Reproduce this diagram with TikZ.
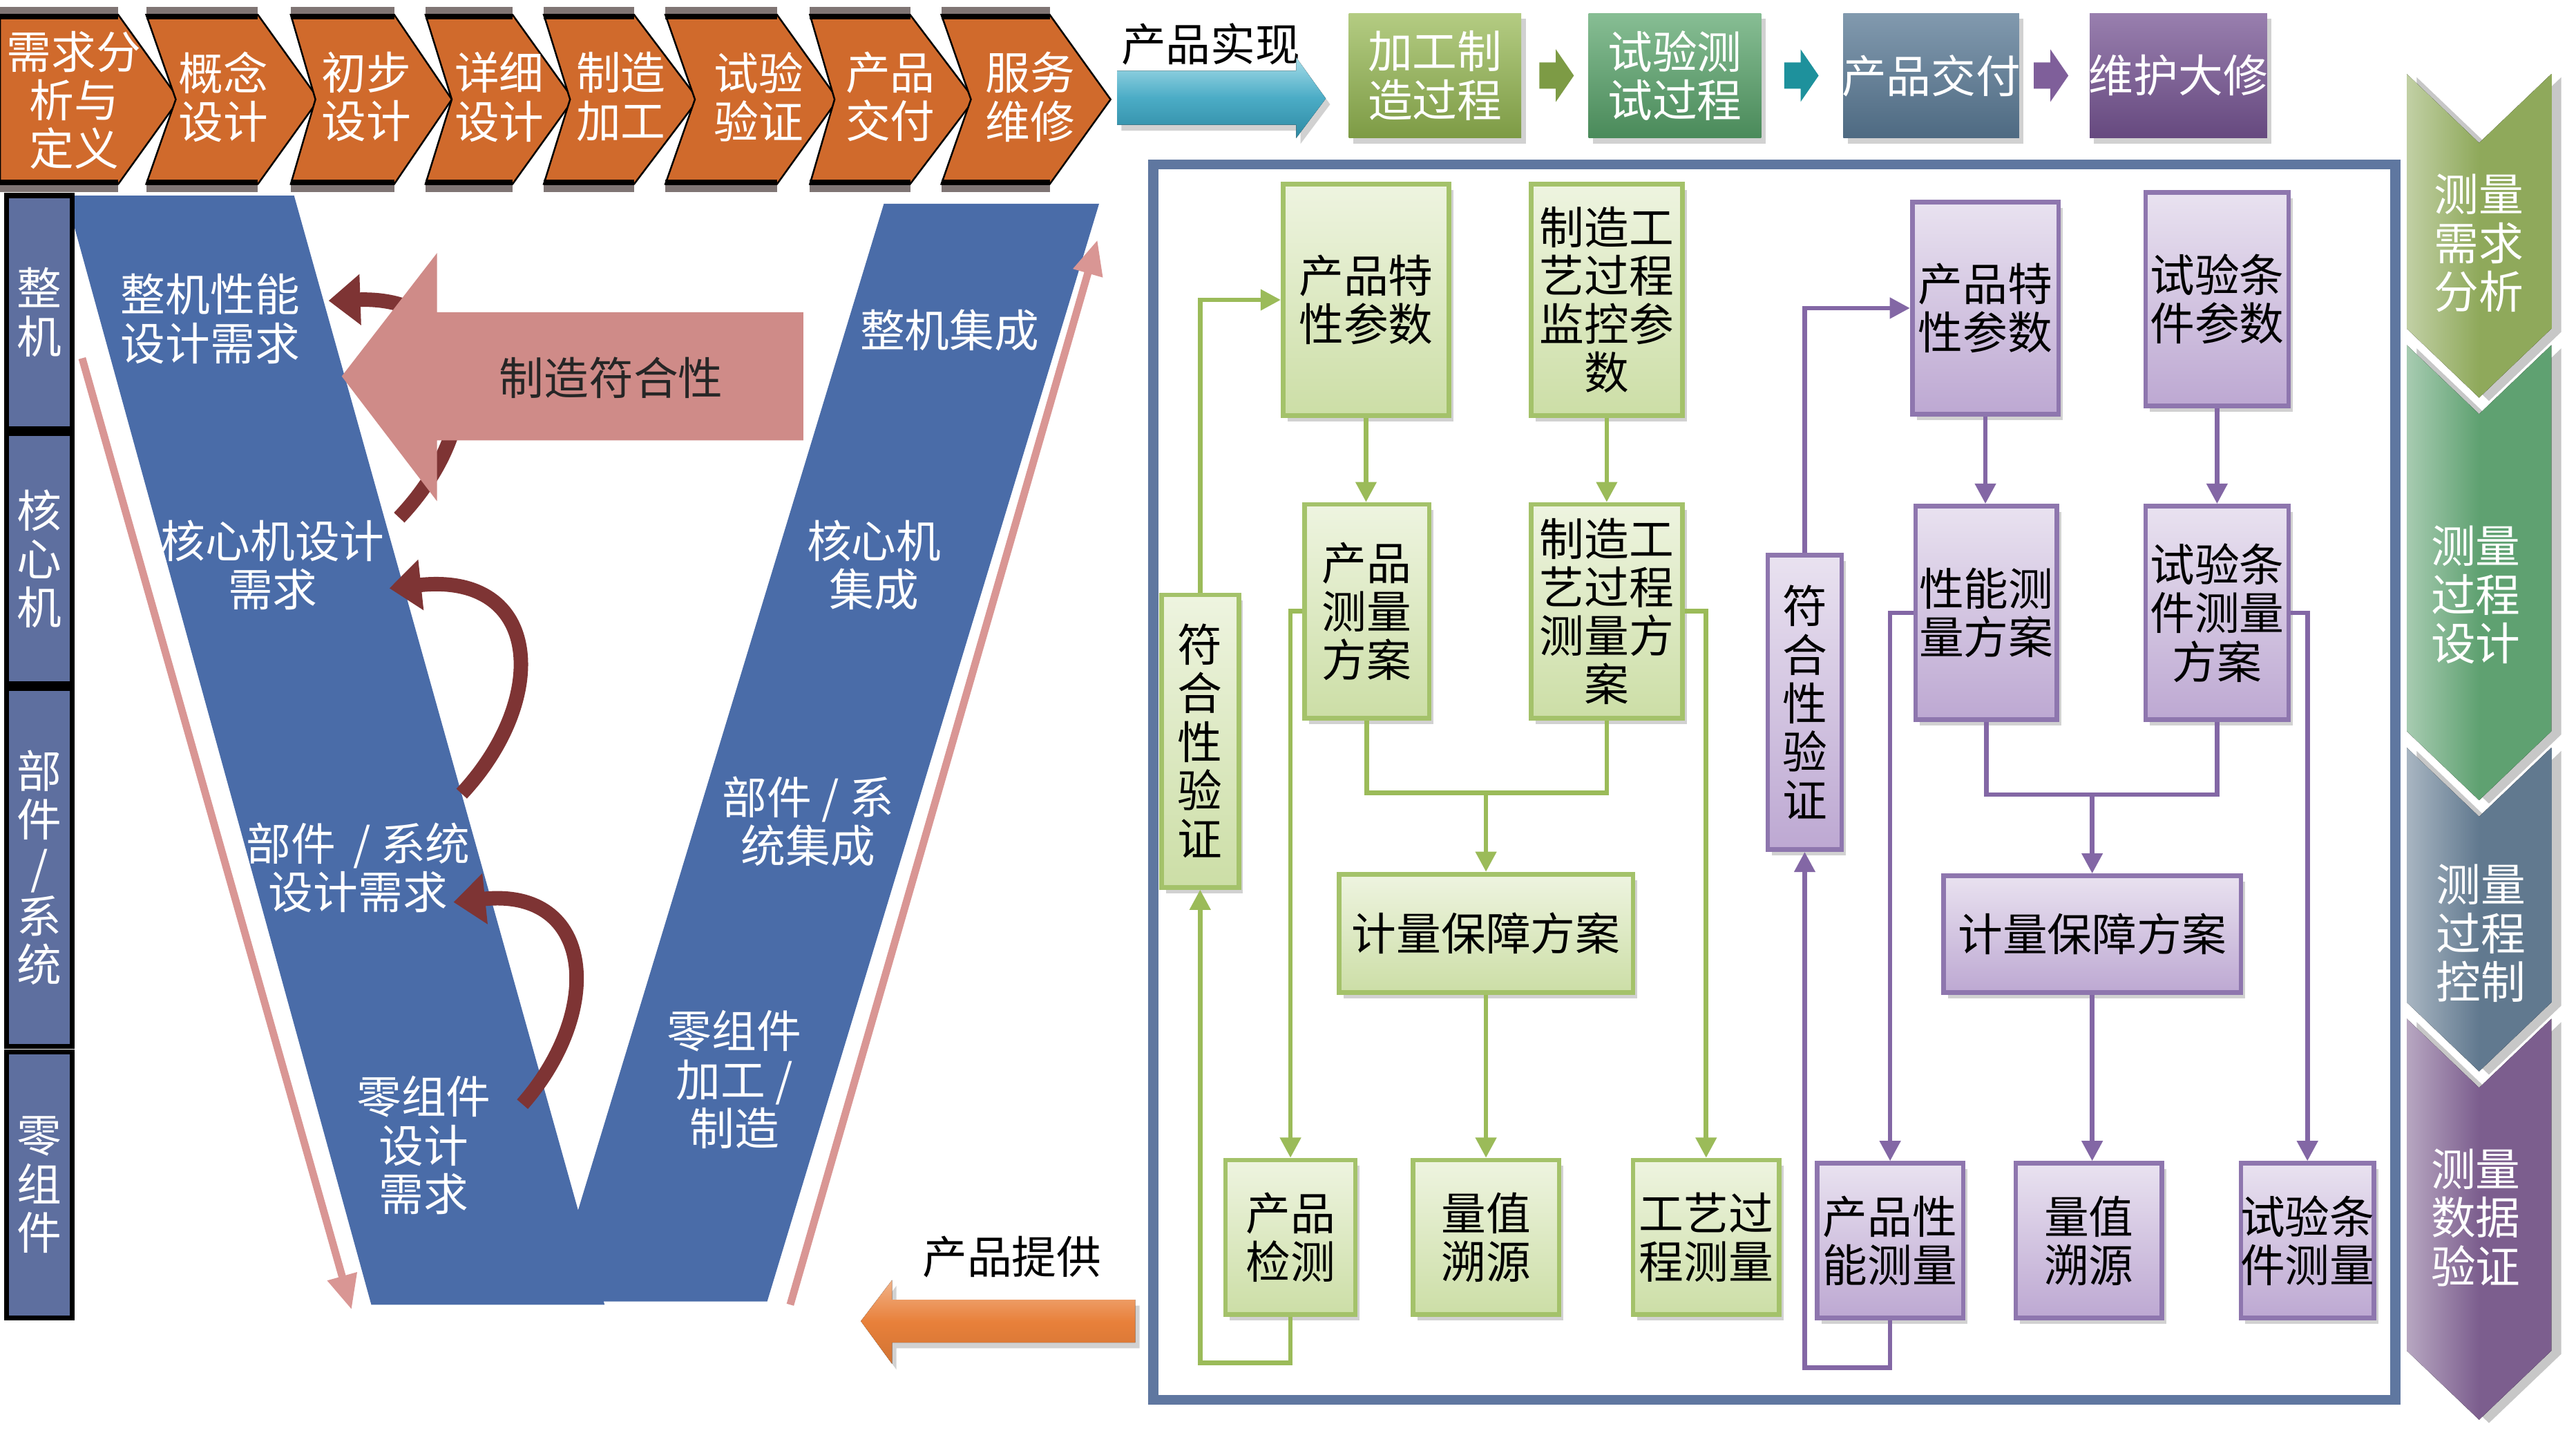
\documentclass[tikz,border=0pt]{standalone}
\usepackage{fontspec}
\setmainfont{Noto Sans CJK SC}
\usetikzlibrary{arrows.meta,shadows,fit,calc}
\definecolor{orC}{HTML}{D06A2C}
\definecolor{bandG}{HTML}{7F7574}
\definecolor{tealA}{HTML}{4BACC6}
\definecolor{tealB}{HTML}{2F8AA3}
\definecolor{tealL}{HTML}{A6DCE8}
\definecolor{olv}{HTML}{9BBB59}
\definecolor{olvD}{HTML}{7D9B45}
\definecolor{grn}{HTML}{5FA870}
\definecolor{grnD}{HTML}{4A8A5A}
\definecolor{slt}{HTML}{62809A}
\definecolor{sltD}{HTML}{4E6A82}
\definecolor{prp}{HTML}{7F5F9A}
\definecolor{prpD}{HTML}{66497F}
\definecolor{frameC}{HTML}{5F77A0}
\definecolor{cellC}{HTML}{5E6F9F}
\definecolor{vblue}{HTML}{4A6CA8}
\definecolor{pinkL}{HTML}{D99694}
\definecolor{pinkA}{HTML}{CF8B88}
\definecolor{dred}{HTML}{7E3434}
\definecolor{orA}{HTML}{E8803A}
\definecolor{gtop}{HTML}{EEF4E0}
\definecolor{gbot}{HTML}{CCDEA6}
\definecolor{gbrd}{HTML}{A4C26A}
\definecolor{glnC}{HTML}{9BBB59}
\definecolor{ptop}{HTML}{E9E2F0}
\definecolor{pbot}{HTML}{BDA8D2}
\definecolor{pbrd}{HTML}{8E76AE}
\definecolor{plnC}{HTML}{8367A5}
\definecolor{rcA}{HTML}{8FA95B}
\definecolor{rcB}{HTML}{5FA171}
\definecolor{rcC}{HTML}{61798F}
\definecolor{rcD}{HTML}{7C5E8E}
\newcommand\fs{\fontsize{15.5}{16.8}\selectfont}
% box: style, fit points, name, text style, text
\newcommand\mkbox[5]{\node[#1,fit={#2}] (#3) {}; \node[#4] (#3t) at (#3.center) {#5};}
\begin{document}
\begin{tikzpicture}[x=0.02cm,y=-0.02cm,
  wt/.style={text=white,align=center,inner sep=0pt,font=\fs},
  bt/.style={text=black,align=center,inner sep=0pt,font=\fs},
  cell/.style={fill=cellC,draw=black,line width=1.7pt,inner sep=0pt},
  shd/.style={drop shadow={shadow xshift=1.5pt,shadow yshift=-2pt,fill=black!45,opacity=.4}},
  gbox/.style={draw=gbrd,line width=1.6pt,top color=gtop,bottom color=gbot,inner sep=0pt,shd},
  pbox/.style={draw=pbrd,line width=1.6pt,top color=ptop,bottom color=pbot,inner sep=0pt,shd},
  topbox/.style={inner sep=0pt,shd},
  gline/.style={draw=glnC,line width=1.6pt},
  garr/.style={gline,-{Triangle[length=7pt,width=7pt]}},
  pline/.style={draw=plnC,line width=1.6pt},
  parr/.style={pline,-{Triangle[length=7pt,width=7pt]}},
  pinkarr/.style={draw=pinkL,line width=2.6pt,-{Triangle[length=12pt,width=10pt]}},
  dredarr/.style={draw=dred,line width=5pt,-{Triangle[length=11pt,width=17pt]}}
]
\useasboundingbox (0,0) rectangle (1568,872);
\fill[white] (0,0) rectangle (1568,872);

% ---------- V shape ----------
\fill[vblue] (40,119) -- (179,119) -- (368,794) -- (226,794) -- cycle;
\fill[vblue] (538,124) -- (669,124) -- (467,792) -- (335,792) -- cycle;

\coordinate (pl1) at (50,218); \coordinate (pl2) at (214,797);
\draw[pinkarr] (pl1) -- (pl2);
\coordinate (pr1) at (481,794); \coordinate (pr2) at (668,146);
\draw[pinkarr] (pr1) -- (pr2);

\coordinate (d1a) at (243,315); \coordinate (d1b) at (200,183);
\draw[dredarr] (d1a) .. controls (300,255) and (290,180) .. (d1b);

\fill[pinkA] (208,229) -- (266,154) -- (266,190) -- (489,190) -- (489,268) -- (266,268) -- (266,305) -- cycle;
\node[bt,text=black!85] (zz) at (372,230) {制造符合性};

\coordinate (d2a) at (281,483); \coordinate (d2b) at (237,358);
\draw[dredarr] (d2a) .. controls (335,425) and (330,348) .. (d2b);
\coordinate (d3a) at (318,672); \coordinate (d3b) at (276,549);
\draw[dredarr] (d3a) .. controls (368,615) and (362,540) .. (d3b);

\node[wt] (V1) at (128,194) {整机性能\\设计需求};
\node[wt] (V2) at (166,344) {核心机设计\\需求};
\node[wt] (V3) at (218,528) {部件 \,/ 系统\\设计需求};
\node[wt] (V4) at (258,697) {零组件\\设计\\需求};
\node[wt] (V5) at (578,201) {整机集成};
\node[wt] (V6) at (532,344) {核心机\\集成};
\node[wt] (V7) at (492,500) {部件 / 系\\统集成};
\node[wt] (V8) at (447,657) {零组件\\加工 /\\制造};

% ---------- left column ----------
\mkbox{cell}{(4,119)(44,261)}{L1}{wt}{整\\机}
\mkbox{cell}{(4,264)(44,416)}{L2}{wt}{核\\心\\机}
\mkbox{cell}{(4,419)(44,637)}{L3}{wt}{部\\件\\/\\系\\统}
\mkbox{cell}{(4,640)(44,802)}{L4}{wt}{零\\组\\件}

% ---------- top chevrons ----------
\foreach \L/\N/\R/\T in {0/0/72/109, 89/107/157/194, 177/192/240/275, 259/275/312/349, 331/347/386/425, 405/423/473/510, 493/508/554/593, 573/591/639/676}{
  \fill[bandG] (\L,4) rectangle (\R,9);
  \fill[bandG] (\L,112) rectangle (\R,117);
  \filldraw[fill=orC,draw=black,line width=0.6pt] (\L,9) -- (\R,9) -- (\T,60.5) -- (\R,112) -- (\L,112) -- (\N,60.5) -- cycle;
  \draw[black,line width=2pt] (\L,10) -- (\R,10) (\L,111) -- (\R,111);
}
\node[wt] (T1) at (45,61) {需求分\\析与\\定义};
\node[wt] (T2) at (136,59) {概念\\设计};
\node[wt] (T3) at (223,59) {初步\\设计};
\node[wt] (T4) at (304,59) {详细\\设计};
\node[wt] (T5) at (378,59) {制造\\加工};
\node[wt] (T6) at (462,59) {试验\\验证};
\node[wt] (T7) at (542,59) {产品\\交付};
\node[wt] (T8) at (627,59) {服务\\维修};

% ---------- product realisation ----------
\node[bt] (PR) at (737,27) {产品实现};
\fill[top color=tealL,bottom color=tealB,middle color=tealA,shd] (680,43) -- (789,43) -- (789,35) -- (807,60) -- (789,84) -- (789,76) -- (680,76) -- cycle;
\mkbox{topbox,top color=olv!75!white,bottom color=olvD}{(821,8)(926,84)}{B1}{wt}{加工制\\造过程}
\mkbox{topbox,top color=grn!75!white,bottom color=grnD}{(967,8)(1072,84)}{B2}{wt}{试验测\\试过程}
\mkbox{topbox,top color=slt!80!white,bottom color=sltD}{(1122,8)(1229,84)}{B3}{wt}{产品交付}
\mkbox{topbox,top color=prp!80!white,bottom color=prpD}{(1272,8)(1380,84)}{B4}{wt}{维护大修}
\fill[olvD] (937,38) -- (947,38) -- (947,30) -- (958,46) -- (947,62) -- (947,54) -- (937,54) -- cycle;
\fill[teal!60!tealA] (1086,38) -- (1096,38) -- (1096,30) -- (1107,46) -- (1096,62) -- (1096,54) -- (1086,54) -- cycle;
\fill[prp] (1238,38) -- (1248,38) -- (1248,30) -- (1259,46) -- (1248,62) -- (1248,54) -- (1238,54) -- cycle;

% ---------- product supply ----------
\node[bt] (PS) at (616,765) {产品提供};
\fill[top color=orA!60!white,bottom color=orA!90!black,middle color=orA,shd] (524,804) -- (543,779) -- (543,791) -- (691,791) -- (691,817) -- (543,817) -- (543,830) -- cycle;

% ---------- frame ----------
\draw[frameC,line width=3.4pt] (702,100) rectangle (1458,852);

% ---------- green flow ----------
\mkbox{gbox}{(781,112)(882,253)}{G1}{bt}{产品特\\性参数}
\mkbox{gbox}{(932,112)(1024,253)}{G2}{bt}{制造工\\艺过程\\监控参\\数}
\mkbox{gbox}{(794,307)(870,437)}{G3}{bt}{产品\\测量\\方案}
\mkbox{gbox}{(932,307)(1024,437)}{G4}{bt}{制造工\\艺过程\\测量方\\案}
\mkbox{gbox}{(707,362)(754,540)}{G5}{bt}{符\\合\\性\\验\\证}
\mkbox{gbox}{(815,532)(994,604)}{G6}{bt}{计量保障方案}
\mkbox{gbox}{(746,706)(825,800)}{G7}{bt}{产品\\检测}
\mkbox{gbox}{(860,706)(949,800)}{G8}{bt}{量值\\溯源}
\mkbox{gbox}{(994,706)(1083,800)}{G9}{bt}{工艺过\\程测量}

\draw[garr] (G5.north) |- (G1.west);
\draw[garr] (G1.south) -- (G1.south |- G3.north);
\draw[garr] (G2.south) -- (G4.north);
\draw[garr] (G3.west) -| (G7.north);
\draw[garr] (G4.east) -| (G9.north);
\coordinate (jg) at ($(G6.north)+(0,-48)$);
\draw[gline] (G3.south) |- (G4.south |- jg) -- (G4.south);
\draw[garr] (jg) -- (G6.north);
\draw[garr] (G6.south) -- (G8.north);
\draw[garr] (G7.south) -- ++(0,28) -| (G5.south);

% ---------- purple flow ----------
\mkbox{pbox}{(1164,123)(1253,252)}{P1}{bt}{产品特\\性参数}
\mkbox{pbox}{(1306,117)(1393,247)}{P2}{bt}{试验条\\件参数}
\mkbox{pbox}{(1166,308)(1252,438)}{P3}{bt}{性能测\\量方案}
\mkbox{pbox}{(1306,308)(1393,438)}{P4}{bt}{试验条\\件测量\\方案}
\mkbox{pbox}{(1076,338)(1121,517)}{P5}{bt}{符\\合\\性\\验\\证}
\mkbox{pbox}{(1183,533)(1364,604)}{P6}{bt}{计量保障方案}
\mkbox{pbox}{(1106,708)(1195,802)}{P7}{bt}{产品性\\能测量}
\mkbox{pbox}{(1227,708)(1316,802)}{P8}{bt}{量值\\溯源}
\mkbox{pbox}{(1364,708)(1445,802)}{P9}{bt}{试验条\\件测量}

\draw[parr] (P5.north) |- (P1.west);
\draw[parr] (P1.south) -- (P1.south |- P3.north);
\draw[parr] (P2.south) -- (P4.north);
\draw[parr] (P3.west) -| (P7.north);
\draw[parr] (P4.east) -| (P9.north);
\coordinate (jp) at ($(P6.north)+(0,-48)$);
\draw[pline] (P3.south) |- (P4.south |- jp) -- (P4.south);
\draw[parr] (jp) -- (P6.north);
\draw[parr] (P6.south) -- (P6.south |- P8.north);
\draw[parr] (P7.south) -- ++(0,29) -| (P5.south);

% ---------- right chevrons ----------
\foreach \a/\b/\c in {45/200/rcA, 210/445/rcB, 455/610/rcC, 620/822/rcD}{
  \fill[black!22] (1471,\a+2) -- (1515,\a+44) -- (1559,\a+2) -- (1559,\b+2) -- (1515,\b+44) -- (1471,\b+2) -- cycle;
  \fill[left color=\c!55!white,right color=\c,middle color=\c] (1465,\a) -- (1509,\a+42) -- (1553,\a) -- (1553,\b) -- (1509,\b+42) -- (1465,\b) -- cycle;
}
\node[wt] (R1) at (1509,148) {测量\\需求\\分析};
\node[wt] (R2) at (1507,362) {测量\\过程\\设计};
\node[wt] (R3) at (1510,568) {测量\\过程\\控制};
\node[wt] (R4) at (1507,741) {测量\\数据\\验证};
\end{tikzpicture}
\end{document}
